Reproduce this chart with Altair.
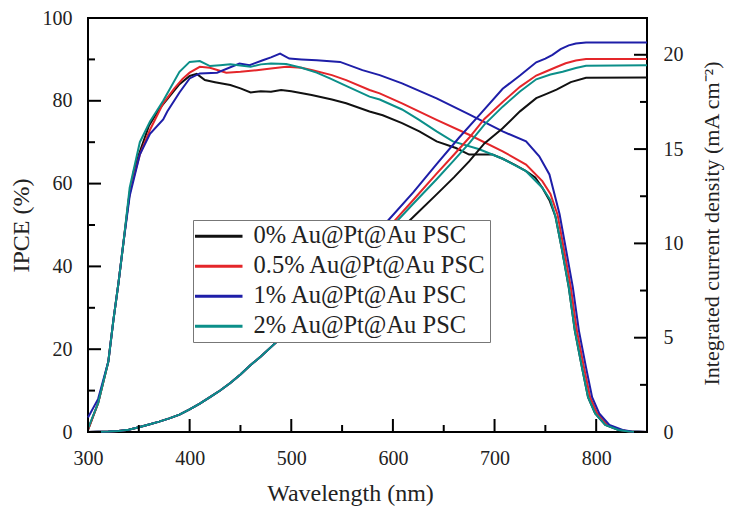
import altair as alt
import pandas as pd

SERIES = ["0% Au@Pt@Au PSC", "0.5% Au@Pt@Au PSC", "1% Au@Pt@Au PSC", "2% Au@Pt@Au PSC"]
COLORS = ["#111111", "#e4262a", "#1e1ea8", "#0b8f89"]

# IPCE (%) curves: wavelength list / value list per series
ipce_black_wl = [300, 310, 320, 325, 330, 335, 340, 345, 350, 360, 370, 380, 390, 400, 407, 415, 425, 440, 450, 460, 470, 480, 490, 500, 520, 540, 554, 577, 590, 609, 626, 643, 662, 675, 698, 708, 720, 731, 740, 747, 754, 760, 766, 773, 779, 786, 792, 799, 809, 822, 832, 850]
ipce_black = [0.5, 7, 17, 27, 36, 46, 56, 63, 67, 74, 78, 81, 84, 86, 86.5, 85, 84.5, 83.8, 83, 82, 82.3, 82.2, 82.6, 82.3, 81.4, 80.3, 79.4, 77.4, 76.5, 74.6, 72.6, 70.2, 68.6, 67, 67, 66, 64.5, 63, 61.5, 59, 56, 52, 44.5, 35, 24.5, 15.6, 8.4, 4.5, 1.7, 0.5, 0.1, 0]

ipce_red_wl = [300, 310, 320, 325, 330, 335, 341, 351, 361, 374, 385, 393, 400, 410, 420, 436, 450, 466, 480, 495, 510, 521, 540, 554, 577, 587, 609, 643, 675, 708, 731, 747, 755, 762, 768, 775, 781, 788, 794, 801, 811, 824, 833, 850]
ipce_red = [0.5, 7, 17, 27, 36, 46, 58, 67, 73, 79.4, 83, 85.3, 86.8, 88.2, 88, 86.8, 87, 87.4, 87.8, 88.2, 88, 87.4, 86.2, 85, 82.6, 81.8, 79.4, 75.4, 71.8, 67.8, 64.6, 60.6, 57.5, 52.5, 44.5, 35, 24.5, 15.6, 8.4, 4.5, 1.7, 0.5, 0.1, 0]

ipce_blue_wl = [300, 310, 320, 325, 330, 335, 341, 351, 361, 374, 378, 390, 400, 410, 427, 449, 459, 472, 480, 489, 498, 510, 525, 548, 570, 587, 609, 643, 675, 708, 731, 744, 754, 764, 770, 777, 783, 790, 796, 803, 813, 826, 835, 850]
ipce_blue = [3.5, 8, 17, 27, 36, 46, 57, 67, 72, 75.5, 77.4, 82, 85.4, 86.6, 86.8, 89, 88.6, 89.8, 90.5, 91.4, 90.2, 90, 89.8, 89.4, 87.4, 86.2, 84.2, 80.6, 76.7, 72.6, 70.2, 66.6, 62.2, 52.6, 44.5, 35, 24.5, 15.6, 8.4, 4.5, 1.7, 0.5, 0.1, 0]

ipce_teal_wl = [300, 310, 320, 325, 330, 335, 341, 351, 361, 374, 390, 400, 410, 420, 430, 440, 450, 460, 470, 480, 495, 510, 525, 538, 555, 577, 587, 609, 625, 643, 659, 685, 708, 731, 747, 755, 760, 766, 773, 779, 786, 792, 799, 809, 822, 832, 850]
ipce_teal = [0.8, 7, 17, 27, 36, 46, 59, 70, 75, 80, 87, 89.4, 89.6, 88.4, 88.6, 88.8, 88.5, 88.2, 88.8, 89, 88.9, 88, 86.8, 85.4, 83.5, 81, 80.3, 77.9, 75.5, 72.6, 70.2, 68.3, 66, 63, 59, 56, 52, 44.5, 35, 24.5, 15.6, 8.4, 4.5, 1.7, 0.5, 0.1, 0]

# Integrated current density (mA cm-2)
j_shared_wl = [300, 320, 330, 340, 350, 360, 370, 380, 390, 400, 410, 420, 430, 440, 450, 460, 470, 480, 490]
j_shared = [0, 0.02, 0.05, 0.12, 0.25, 0.4, 0.55, 0.72, 0.92, 1.2, 1.5, 1.85, 2.2, 2.6, 3.05, 3.55, 4.0, 4.5, 5.0]

j_black_wl = [500, 520, 550, 575, 600, 620, 643, 660, 675, 690, 708, 725, 741, 750, 761, 775, 790, 850]
j_black = [5.3, 6.2, 7.6, 9.0, 10.35, 11.4, 12.6, 13.5, 14.35, 15.3, 16.1, 17.0, 17.7, 17.9, 18.15, 18.55, 18.78, 18.8]

j_red_wl = [500, 520, 550, 575, 600, 620, 643, 660, 675, 690, 708, 725, 741, 750, 761, 770, 780, 790, 850]
j_red = [5.5, 6.6, 8.3, 9.8, 11.1, 12.3, 13.7, 14.7, 15.6, 16.6, 17.5, 18.3, 18.9, 19.1, 19.35, 19.55, 19.7, 19.77, 19.77]

j_blue_wl = [500, 520, 550, 575, 595, 620, 643, 665, 685, 708, 725, 741, 750, 757, 765, 773, 780, 790, 850]
j_blue = [5.6, 6.8, 8.6, 10.1, 11.2, 12.7, 14.2, 15.6, 16.8, 18.2, 18.9, 19.6, 19.8, 20.0, 20.3, 20.5, 20.6, 20.65, 20.65]

j_teal_wl = [500, 520, 550, 575, 600, 620, 643, 660, 675, 690, 708, 725, 741, 755, 767, 780, 790, 850]
j_teal = [5.45, 6.5, 8.2, 9.7, 10.95, 12.1, 13.4, 14.4, 15.3, 16.3, 17.25, 18.05, 18.7, 18.95, 19.1, 19.3, 19.42, 19.45]

# axis ticks
x_major = [300, 400, 500, 600, 700, 800]
x_minor = [350, 450, 550, 650, 750, 850]
left_major = [0, 20, 40, 60, 80, 100]
left_minor = [10, 30, 50, 70, 90]
right_major = [0, 5, 10, 15, 20]
right_minor = [2.5, 7.5, 12.5, 17.5]

W, H = 559, 414
FONT = "Liberation Serif"

ipce_rows = []
for name, wl, vals in zip(SERIES, [ipce_black_wl, ipce_red_wl, ipce_blue_wl, ipce_teal_wl],
                          [ipce_black, ipce_red, ipce_blue, ipce_teal]):
    for w, v in zip(wl, vals):
        ipce_rows.append({"wl": w, "val": v, "series": name})
ipce_df = pd.DataFrame(ipce_rows)

j_rows = []
for name, wl, vals in zip(SERIES, [j_black_wl, j_red_wl, j_blue_wl, j_teal_wl],
                          [j_black, j_red, j_blue, j_teal]):
    for w, v in zip(j_shared_wl + wl, j_shared + vals):
        j_rows.append({"wl": w, "val": v, "series": name})
j_df = pd.DataFrame(j_rows)

xscale = alt.Scale(domain=[300, 850], nice=False, zero=False)
yl_scale = alt.Scale(domain=[0, 100], nice=False)
yr_scale = alt.Scale(domain=[0, 21.95], nice=False)
cscale = alt.Scale(domain=SERIES, range=COLORS)

axis_common = dict(ticks=False, domain=False, grid=False, labelFlush=False,
                   labelFont=FONT, labelFontSize=20, labelColor="#222",
                   titleFont=FONT, titleFontWeight="normal", titleColor="#222",
                   titleBaseline="alphabetic", labelPadding=16)

X_AXIS = alt.Axis(values=x_major, title="Wavelength (nm)", titleFontSize=24,
                  titleX=262, titleY=68, **axis_common)


def xenc(field):
    return alt.X(field, scale=xscale, axis=X_AXIS)


ipce_lines = alt.Chart(ipce_df).mark_line(strokeWidth=2).encode(
    x=xenc("wl:Q"),
    y=alt.Y("val:Q", scale=yl_scale,
            axis=alt.Axis(values=left_major, title="IPCE (%)", titleFontSize=24,
                          titleX=-60, titleY=207, **axis_common)),
    color=alt.Color("series:N", scale=cscale, sort=SERIES,
                    legend=alt.Legend(title=None, orient="none", legendX=105, legendY=202,
                                      fillColor="white", strokeColor="#777", padding=4,
                                      symbolType="M-1.5,0H3.5", symbolSize=361, symbolStrokeWidth=3,
                                      labelFont=FONT, labelFontSize=24.5, labelColor="#222",
                                      labelOffset=32, rowPadding=5, labelLimit=400)),
    order=alt.Order("wl:Q"),
)

j_lines = alt.Chart(j_df).mark_line(strokeWidth=2).encode(
    x=xenc("wl:Q"),
    y=alt.Y("val:Q", scale=yr_scale,
            axis=alt.Axis(values=right_major, orient="right",
                          title="Integrated current density (mA cm⁻²)", titleFontSize=22,
                          titleAngle=270, titleX=71, titleY=205, **axis_common)),
    color=alt.Color("series:N", scale=cscale, sort=SERIES, legend=None),
    order=alt.Order("wl:Q"),
)


def xtick_layer(vals, length):
    return alt.Chart(pd.DataFrame({"wl": vals})).mark_rule(color="black", strokeWidth=2).encode(
        x=xenc("wl:Q"),
        y=alt.value(H), y2=alt.value(H - length))


def ltick_layer(vals, length):
    return alt.Chart(pd.DataFrame({"wl": [300] * len(vals), "v": vals})).mark_rule(
        color="black", strokeWidth=2).encode(
        y=alt.Y("v:Q", scale=yl_scale, axis=None),
        x=alt.value(0), x2=alt.value(length))


def rtick_layer(vals, length):
    return alt.Chart(pd.DataFrame({"wl": [850] * len(vals), "v": vals})).mark_rule(
        color="black", strokeWidth=2).encode(
        y=alt.Y("v:Q", scale=yr_scale, axis=None),
        x=alt.value(W), x2=alt.value(W - length))


chart = alt.layer(
    ipce_lines, j_lines,
    xtick_layer(x_major, 13), xtick_layer(x_minor, 7),
    ltick_layer(left_major, 13), ltick_layer(left_minor, 7),
    rtick_layer(right_major, 13), rtick_layer(right_minor, 7),
).resolve_scale(y="independent").properties(
    width=W, height=H,
    autosize=alt.AutoSizeParams(type="none"),
    padding={"left": 80, "top": 10, "right": 78, "bottom": 74},
    background="white",
).configure_view(stroke="black", strokeWidth=2)

chart.save("out.html", embed_options={"renderer": "svg", "actions": False})
